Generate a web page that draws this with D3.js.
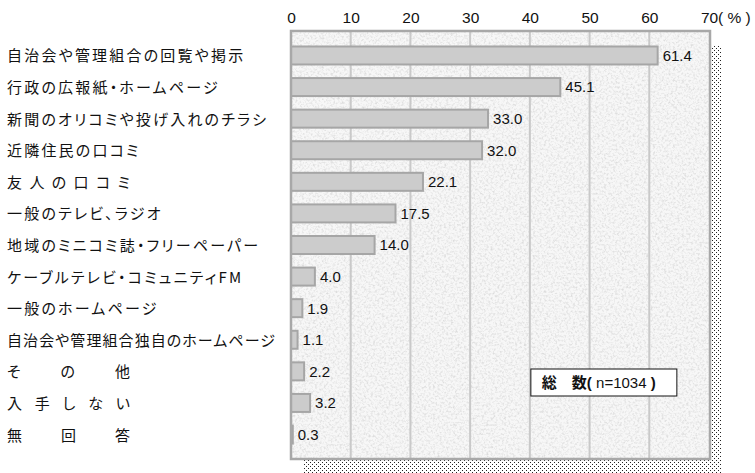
<!DOCTYPE html>
<html>
<head>
<meta charset="utf-8">
<script src="https://cdn.jsdelivr.net/npm/d3@7"></script>
<style>
  body { margin: 0; background: #fff; }
  svg { display: block; }
  .cat-label { font-feature-settings: "palt"; }
</style>
</head>
<body>
<div id="chart"></div>
<script>
const categories = [
    '自治会や管理組合の回覧や掲示',
    '行政の広報紙・ホームページ',
    '新聞のオリコミや投げ入れのチラシ',
    '近隣住民の口コミ',
    '友 人 の 口 コ ミ',
    '一般のテレビ、ラジオ',
    '地域のミニコミ誌・フリーペーパー',
    'ケーブルテレビ・コミュニティFM',
    '一般のホームページ',
    '自治会や管理組合独自のホームページ',
    'そ　の　他',
    '入 手 し な い',
    '無　回　答'
];
const values = [61.4, 45.1, 33.0, 32.0, 22.1, 17.5, 14.0, 4.0, 1.9, 1.1, 2.2, 3.2, 0.3];
const tickValues = [0, 10, 20, 30, 40, 50, 60, 70];
const unitLabel = '( % )';
const totalLabel = '総　数';
const totalCount = 'n=1034';

displayBarChart('chart');

function displayBarChart(divId) {
    const svgWidth = 755;
    const svgHeight = 473;

    const plotLeft = 291;
    const plotRight = 710;
    const plotTop = 31;
    const plotBottom = 459;
    const shadowOffset = 12;

    const svg = d3.select('#' + divId)
        .append('svg')
        .attr('width', svgWidth)
        .attr('height', svgHeight);

    const defs = svg.append('defs');

    // dotted drop shadow
    const dots = defs.append('pattern')
        .attr('id', 'dots')
        .attr('width', 4)
        .attr('height', 4)
        .attr('patternUnits', 'userSpaceOnUse');
    dots.append('rect').attr('width', 4).attr('height', 4).attr('fill', '#fff');
    dots.append('rect').attr('x', 0).attr('y', 0).attr('width', 1).attr('height', 1).attr('fill', '#222');
    dots.append('rect').attr('x', 2).attr('y', 2).attr('width', 1).attr('height', 1).attr('fill', '#222');

    // light stucco texture for the plot background
    const stucco = defs.append('filter')
        .attr('id', 'stucco')
        .attr('x', 0).attr('y', 0).attr('width', 1).attr('height', 1);
    stucco.append('feTurbulence')
        .attr('type', 'fractalNoise')
        .attr('baseFrequency', 0.45)
        .attr('numOctaves', 3)
        .attr('seed', 7)
        .attr('result', 'noise');
    stucco.append('feColorMatrix')
        .attr('in', 'noise')
        .attr('type', 'matrix')
        .attr('values', '0 0 0 0 0.72  0 0 0 0 0.72  0 0 0 0 0.72  2.4 0 0 0 -1.05');

    const x = d3.scaleLinear()
        .domain([0, 70])
        .range([plotLeft, plotRight - 1]);

    const y = d3.scaleBand()
        .domain(categories)
        .range([plotTop, plotBottom])
        .paddingInner(0.43)
        .paddingOuter(0.49);

    svg.append('rect')
        .attr('x', plotLeft + shadowOffset)
        .attr('y', plotTop + shadowOffset + 3)
        .attr('width', plotRight - plotLeft)
        .attr('height', plotBottom - plotTop)
        .attr('fill', 'url(#dots)');

    svg.append('rect')
        .attr('x', plotLeft)
        .attr('y', plotTop)
        .attr('width', plotRight - plotLeft)
        .attr('height', plotBottom - plotTop)
        .attr('fill', '#f7f7f7');

    svg.append('rect')
        .attr('x', plotLeft)
        .attr('y', plotTop)
        .attr('width', plotRight - plotLeft)
        .attr('height', plotBottom - plotTop)
        .attr('filter', 'url(#stucco)');

    // gridlines
    svg.append('g')
        .selectAll('line')
        .data(tickValues.slice(1, -1))
        .join('line')
            .attr('x1', d => x(d))
            .attr('x2', d => x(d))
            .attr('y1', plotTop)
            .attr('y2', plotBottom)
            .attr('stroke', '#c9c9c9')
            .attr('stroke-width', 2);

    // bars
    svg.append('g')
        .selectAll('rect')
        .data(values)
        .join('rect')
            .attr('x', x(0))
            .attr('y', (d, i) => y(categories[i]))
            .attr('width', d => x(d) - x(0))
            .attr('height', y.bandwidth())
            .attr('fill', '#cccccc')
            .attr('stroke', '#a6a6a6')
            .attr('stroke-width', 2);

    svg.append('rect')
        .attr('x', plotLeft)
        .attr('y', plotTop)
        .attr('width', plotRight - plotLeft)
        .attr('height', plotBottom - plotTop)
        .attr('fill', 'none')
        .attr('stroke', '#a8a8a8')
        .attr('stroke-width', 2.5);

    // value labels
    svg.append('g')
        .selectAll('text')
        .data(values)
        .join('text')
            .attr('x', d => x(d) + 5)
            .attr('y', (d, i) => y(categories[i]) + y.bandwidth() / 2)
            .attr('dy', '0.36em')
            .attr('font-family', 'Liberation Sans, Arial, sans-serif')
            .attr('font-size', 15)
            .attr('fill', '#111')
            .text(d => d3.format('.1f')(d));

    // top axis
    const axis = svg.append('g')
        .attr('transform', `translate(0, ${plotTop - 8})`)
        .call(d3.axisTop(x).tickValues(tickValues).tickSize(0).tickPadding(0));
    axis.select('.domain').remove();
    axis.selectAll('text')
        .attr('font-family', 'Liberation Sans, Arial, sans-serif')
        .attr('font-size', 15.5)
        .attr('fill', '#111');

    svg.append('text')
        .attr('x', x(70) + 9)
        .attr('y', plotTop - 8)
        .attr('font-family', 'Liberation Sans, Arial, sans-serif')
        .attr('font-size', 15.5)
        .attr('fill', '#111')
        .text(unitLabel);

    // category labels
    const labelLeft = 7;
    const labelMax = 268;
    const labels = svg.append('g')
        .selectAll('text')
        .data(categories)
        .join('text')
            .attr('class', 'cat-label')
            .attr('x', labelLeft)
            .attr('y', d => y(d) + y.bandwidth() / 2)
            .attr('dy', '0.4em')
            .attr('font-family', '"Noto Sans CJK JP", sans-serif')
            .attr('font-size', 15)
            .attr('letter-spacing', 2.2)
            .attr('fill', '#111')
            .text(d => d.replace(/[ 　]/g, ''));

    labels.each(function (d) {
        const node = d3.select(this);
        if (/[ 　]/.test(d)) {
            node.attr('letter-spacing', 0)
                .attr('textLength', 123)
                .attr('lengthAdjust', 'spacing');
        } else if (this.getComputedTextLength() > labelMax) {
            node.attr('letter-spacing', 0)
                .attr('textLength', labelMax)
                .attr('lengthAdjust', 'spacing');
        }
    });

    // total box
    const box = svg.append('g')
        .attr('transform', `translate(${x(40) + 1}, 369)`);
    box.append('rect')
        .attr('width', 146)
        .attr('height', 27)
        .attr('fill', '#fff')
        .attr('stroke', '#111')
        .attr('stroke-width', 1);
    const boxText = box.append('text')
        .attr('x', 11)
        .attr('y', 19)
        .attr('font-family', 'Liberation Sans, Arial, sans-serif')
        .attr('font-size', 15)
        .attr('fill', '#111');
    boxText.append('tspan')
        .attr('font-family', '"Noto Sans CJK JP", sans-serif')
        .attr('font-weight', 'bold')
        .attr('font-size', 15)
        .text(totalLabel);
    boxText.append('tspan').attr('font-weight', 'bold').text('(');
    boxText.append('tspan').text(' ' + totalCount + ' ');
    boxText.append('tspan').attr('font-weight', 'bold').text(')');
}
</script>
</body>
</html>
